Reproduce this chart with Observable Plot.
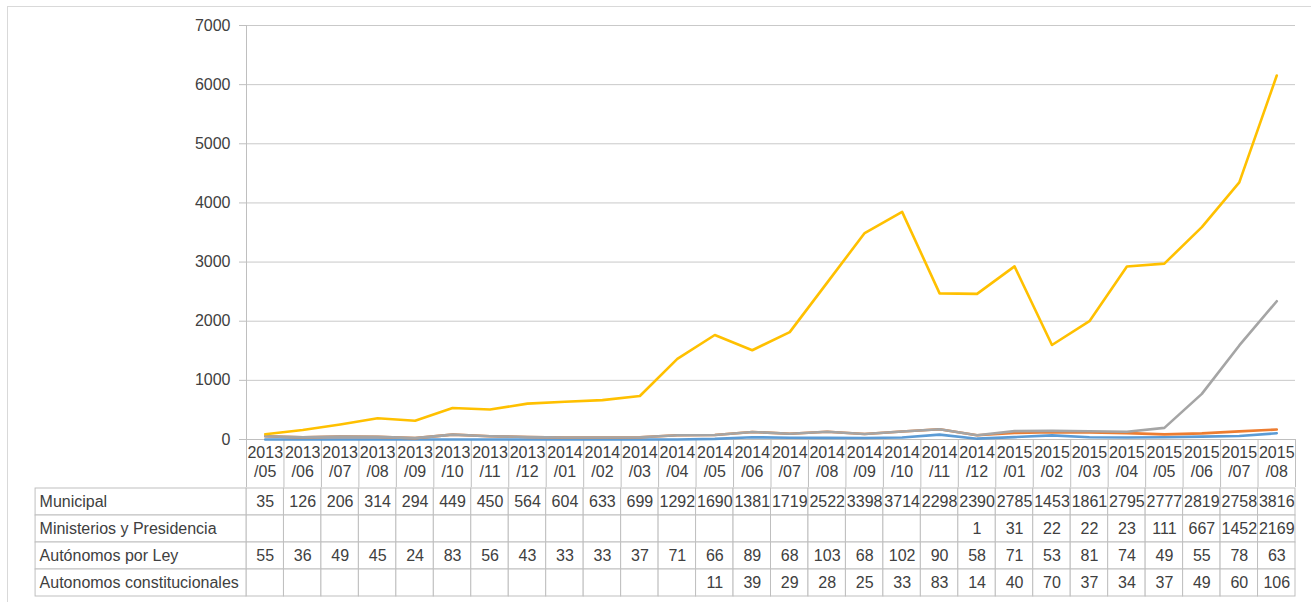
<!DOCTYPE html>
<html><head><meta charset="utf-8">
<script src="https://cdn.jsdelivr.net/npm/d3@7"></script>
<script src="https://cdn.jsdelivr.net/npm/@observablehq/plot@0.6"></script>
<style>
body{margin:0;background:#fff;}
#wrap{position:relative;width:1311px;height:602px;overflow:hidden;font-family:"Liberation Sans",Arial,sans-serif;background:#fff;}
#wrap svg{display:block;}
#border{position:absolute;left:7px;top:6px;width:1400px;height:1000px;border-left:1px solid #d9d9d9;border-top:1px solid #d9d9d9;pointer-events:none}
</style></head><body><div id="wrap"><div id="border"></div></div>
<script>
const months = ["2013/05","2013/06","2013/07","2013/08","2013/09","2013/10","2013/11","2013/12",
  "2014/01","2014/02","2014/03","2014/04","2014/05","2014/06","2014/07","2014/08","2014/09","2014/10","2014/11","2014/12",
  "2015/01","2015/02","2015/03","2015/04","2015/05","2015/06","2015/07","2015/08"];
const municipal = [35,126,206,314,294,449,450,564,604,633,699,1292,1690,1381,1719,2522,3398,3714,2298,2390,2785,1453,1861,2795,2777,2819,2758,3816];
const ministerios = [null,null,null,null,null,null,null,null,null,null,null,null,null,null,null,null,null,null,null,1,31,22,22,23,111,667,1452,2169];
const autonomosLey = [55,36,49,45,24,83,56,43,33,33,37,71,66,89,68,103,68,102,90,58,71,53,81,74,49,55,78,63];
const autonomosConst = [null,null,null,null,null,null,null,null,null,null,null,null,11,39,29,28,25,33,83,14,40,70,37,34,37,49,60,106];

const seriesNames = ["Municipal","Ministerios y Presidencia","Autónomos por Ley","Autonomos constitucionales"];
const seriesValues = [municipal, ministerios, autonomosLey, autonomosConst];
const stackOrder = ["Autonomos constitucionales","Autónomos por Ley","Ministerios y Presidencia","Municipal"];
const seriesColors = ["#5B9BD5","#ED7D31","#A5A5A5","#FFC000"];
const yTicks = [0,1000,2000,3000,4000,5000,6000,7000];
const labelColumnSpan = 5.63; // width of the label column, in month columns

const lineData = stackOrder.flatMap(s => {
  const vals = seriesValues[seriesNames.indexOf(s)];
  return months.map((m, i) => ({series: s, i, value: vals[i] ?? 0}));
});
const tableData = seriesNames.flatMap((s, k) => months.map((m, i) => ({row: s, i, value: seriesValues[k][i]})));

const W = 1311;
const font = '"Liberation Sans", Arial, sans-serif';
const gridColor = "#c9c9c9";
const borderColor = "#bfbfbf";

const chart = Plot.plot({
  width: W, height: 487,
  marginLeft: 246, marginRight: 16, marginTop: 25, marginBottom: 48,
  style: {fontFamily: font, fontSize: "16px", color: "#404040", background: "transparent", overflow: "visible"},
  x: {domain: [0, months.length], axis: null},
  y: {domain: [0, 7000], axis: null},
  color: {domain: stackOrder, range: seriesColors},
  marks: [
    Plot.gridY(yTicks, {stroke: gridColor, strokeOpacity: 1}),
    Plot.axisY(yTicks, {label: null, tickSize: 7, tickPadding: 9, tickFormat: d => String(d), stroke: borderColor, strokeOpacity: 1, fill: "#404040"}),
    Plot.ruleX([0], {stroke: borderColor}),
    Plot.axisX(d3.range(months.length + 1), {label: null, tickSize: 48, tickPadding: 0, tickFormat: () => "", stroke: borderColor, strokeOpacity: 1}),
    Plot.axisX(d3.range(months.length).map(i => i + 0.5), {label: null, tickSize: 0, tickPadding: 5, lineHeight: 1.2, fill: "#404040",
      tickFormat: d => months[Math.round(d - 0.5)].replace("/", "\n/")}),
    Plot.ruleY([0], {stroke: borderColor}),
    Plot.lineY(lineData, Plot.stackY2({x: d => d.i + 0.5, y: "value", z: "series", stroke: "series", order: stackOrder, strokeWidth: 2.6, strokeLinejoin: "round"}))
  ]
});

const table = Plot.plot({
  width: W, height: 115,
  marginLeft: 246, marginRight: 16, marginTop: 0, marginBottom: 5,
  style: {fontFamily: font, fontSize: "16px", color: "#404040", background: "transparent", overflow: "visible"},
  x: {domain: [0, months.length], axis: null},
  y: {domain: seriesNames, axis: null, padding: 0},
  marks: [
    Plot.barX(tableData, {x1: "i", x2: d => d.i + 1, y: "row", fill: "white", stroke: borderColor}),
    Plot.barX(seriesNames, {x1: -labelColumnSpan, x2: 0, y: d => d, fill: "white", stroke: borderColor}),
    Plot.text(tableData.filter(d => d.value != null), {x: d => d.i + 0.5, y: "row", text: d => String(d.value), fill: "#404040"}),
    Plot.text(seriesNames, {x: -labelColumnSpan, y: d => d, text: d => d, textAnchor: "start", dx: 4, fill: "#404040"})
  ]
});

const wrap = document.getElementById("wrap");
wrap.insertBefore(chart, wrap.firstChild);
wrap.insertBefore(table, chart.nextSibling);
</script>
</body></html>
